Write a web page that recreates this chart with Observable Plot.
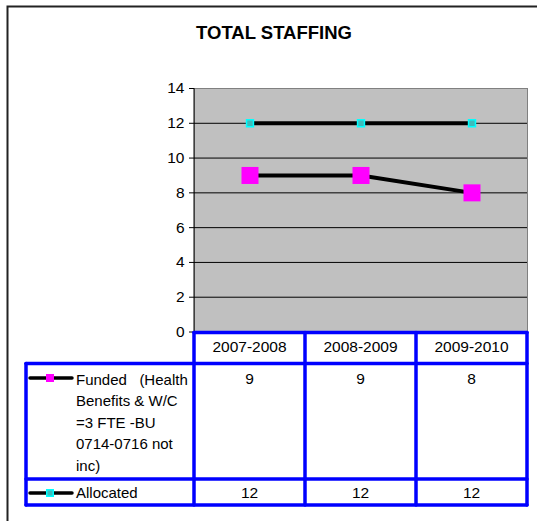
<!DOCTYPE html>
<html><head><meta charset="utf-8">
<script src="https://cdn.jsdelivr.net/npm/d3@7"></script>
<script src="https://cdn.jsdelivr.net/npm/@observablehq/plot@0.6"></script>
<style>body{margin:0;background:#fff}</style>
</head><body><div id="chart"></div>
<script>
const title = "TOTAL STAFFING";
const categories = ["2007-2008", "2008-2009", "2009-2010"];
const funded = [9, 9, 8];
const allocated = [12, 12, 12];
const yTicks = [0, 2, 4, 6, 8, 10, 12, 14];
const fundedLabelLines = ["Funded   (Health", "Benefits & W/C", "=3 FTE -BU", "0714-0716 not", "inc)"];
const allocatedLabel = "Allocated";
const fundedColor = "#ff00ff";
const allocatedFill = "#3cbcbc";
const allocatedStroke = "#00ffff";

const rows = categories.map((c, i) => ({category: c, funded: funded[i], allocated: allocated[i]}));
const font = "'Liberation Sans', Arial, sans-serif";

const plot = Plot.plot({
  width: 537, height: 521,
  marginLeft: 194, marginRight: 10, marginTop: 88, marginBottom: 189.5,
  style: {fontFamily: font, fontSize: "15px", color: "#000", background: "#fff", overflow: "visible"},
  x: {type: "band", domain: categories, padding: 0, axis: null},
  y: {domain: [0, 14], axis: null},
  marks: [
    Plot.frame({fill: "#c0c0c0", stroke: "#808080"}),
    Plot.ruleY(yTicks.filter(t => t > 0 && t < 14), {stroke: "#000", strokeWidth: 1}),
    Plot.axisY({ticks: yTicks, tickSize: 5, tickPadding: 5, fontSize: 15.5, label: null, anchor: "left"}),
    Plot.line(rows, {x: "category", y: "funded", stroke: "#000", strokeWidth: 4}),
    Plot.line(rows, {x: "category", y: "allocated", stroke: "#000", strokeWidth: 4}),
    Plot.dot(rows, {x: "category", y: "funded", symbol: "square", r: 9.6, fill: fundedColor}),
    Plot.dot(rows, {x: "category", y: "allocated", symbol: "square", r: 3.9, fill: allocatedFill, stroke: allocatedStroke, strokeWidth: 1.5})
  ]
});
document.getElementById("chart").appendChild(plot);

const svg = d3.select(plot);
const xs = plot.scale("x");
const ys = plot.scale("y");
const bw = xs.bandwidth;
const xLeft = xs.apply(categories[0]);
const xRight = xs.apply(categories[categories.length - 1]) + bw;
const yTop = ys.apply(14), yZero = ys.apply(0);

// outer chart border (top + left visible)
svg.append("path").attr("d", `M7.5,${521}V6.5H${537}`).attr("fill", "none").attr("stroke", "#222").attr("stroke-width", 2);

// y axis line
svg.append("line").attr("x1", xLeft).attr("x2", xLeft).attr("y1", yTop).attr("y2", yZero).attr("stroke", "#000");

// title
svg.append("text").attr("x", 274).attr("y", 39).attr("text-anchor", "middle")
  .attr("font-family", font).attr("font-size", 18.5).attr("font-weight", "bold").text(title);

// data table
const headerTop = yZero + 1, headerBottom = 363.5, fundedBottom = 479, tableBottom = 505, tableLeft = 26;
const blue = "#0000ff", bwid = 3.5;
const g = svg.append("g").attr("font-family", font).attr("font-size", 15.5).attr("text-anchor", "start");
const hline = (x1, x2, y) => g.append("line").attr("x1", x1).attr("x2", x2).attr("y1", y).attr("y2", y).attr("stroke", blue).attr("stroke-width", bwid).attr("stroke-linecap", "round");
const vline = (x, y1, y2) => g.append("line").attr("x1", x).attr("x2", x).attr("y1", y1).attr("y2", y2).attr("stroke", blue).attr("stroke-width", bwid).attr("stroke-linecap", "round");

// header cells
categories.forEach(c => {
  g.append("text").attr("x", xs.apply(c) + bw / 2).attr("y", headerTop + 19).attr("text-anchor", "middle").text(c);
});
// values
rows.forEach(r => {
  g.append("text").attr("x", xs.apply(r.category) + bw / 2).attr("y", headerBottom + 20).attr("text-anchor", "middle").text(r.funded);
  g.append("text").attr("x", xs.apply(r.category) + bw / 2).attr("y", fundedBottom + 19).attr("text-anchor", "middle").text(r.allocated);
});
// series labels
fundedLabelLines.forEach((t, i) => {
  g.append("text").attr("x", 76).attr("y", headerBottom + 21 + i * 21.5).attr("font-size", 15).attr("text-anchor", "start").style("white-space", "pre").attr("xml:space", "preserve").text(t);
});
g.append("text").attr("x", 76).attr("y", fundedBottom + 19).attr("font-size", 15).attr("text-anchor", "start").text(allocatedLabel);

// legend keys
const key = (y, fill, stroke, side) => {
  g.append("line").attr("x1", 30).attr("x2", 72).attr("y1", y).attr("y2", y).attr("stroke", "#000").attr("stroke-width", 3.5).attr("stroke-linecap", "round");
  g.append("rect").attr("x", 50 - side / 2).attr("y", y - side / 2).attr("width", side).attr("height", side)
    .attr("fill", fill).attr("stroke", stroke || "none").attr("stroke-width", 1.5);
};
key(headerBottom + 14.5, fundedColor, null, 8);
key(fundedBottom + 14, allocatedFill, allocatedStroke, 6.5);

// table lines
hline(xLeft, xRight, headerTop);
hline(xLeft, xRight, headerBottom);
hline(tableLeft, xLeft, headerBottom);
hline(tableLeft, xRight, fundedBottom);
hline(tableLeft, xRight, tableBottom);
categories.forEach(c => vline(xs.apply(c), headerTop, tableBottom));
vline(xRight, headerTop, tableBottom);
vline(tableLeft, headerBottom, tableBottom);
</script>
</body></html>
